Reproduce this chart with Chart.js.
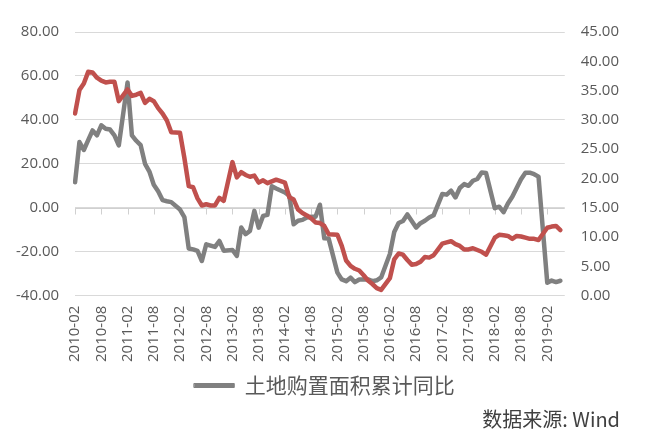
<!DOCTYPE html>
<html>
<head>
<meta charset="utf-8">
<script src="https://cdn.jsdelivr.net/npm/chart.js@4.4.1/dist/chart.umd.min.js"></script>
<style>
  html, body { margin: 0; padding: 0; background: #fff; }
  #wrap { position: relative; width: 649px; height: 438px; }
  #source {
    position: absolute; right: 29px; top: 404px;
    font: 20px "Noto Sans CJK SC", sans-serif; color: #404040; white-space: nowrap;
  }
</style>
</head>
<body>
<div id="wrap">
  <canvas id="chart" width="649" height="438"></canvas>
  <div id="source">数据来源: Wind</div>
</div>
<script>
// months 2010-02 .. 2019-06 (January has no cumulative figure, so it stays null)
const firstYear = 2010, lastYear = 2019;
const months = [];
for (let y = firstYear; y <= lastYear; y++) {
    for (let m = 1; m <= 12; m++) {
        if (y === firstYear && m < 2) continue;
        if (y === lastYear && m > 6) break;
        months.push(y + "-" + String(m).padStart(2, "0"));
    }
}

// 土地购置面积累计同比 (%), left axis
const landArea = [
    11.6, 29.9, 26.3, 30.8, 35.2, 33.0, 37.5, 36.0, 35.6, 33.0, 28.4,          // 2010 Feb-Dec
    null, 57.0, 33.0, 30.5, 28.5, 20.0, 16.5, 10.5, 7.5, 3.5, 3.0, 2.6,        // 2011
    null, -0.8, -4.2, -18.5, -18.9, -19.6, -24.2, -16.6, -17.2, -17.8, -15.1, -19.5, // 2012
    null, -19.2, -21.9, -9.0, -12.0, -10.5, -1.4, -9.0, -3.7, -3.2, 9.8, 8.8,  // 2013
    null, 7.0, 5.5, -7.5, -5.9, -5.5, -4.4, -4.1, -4.1, 1.4, -13.9, -14.0,     // 2014
    null, -29.5, -32.6, -33.4, -31.8, -33.8, -32.6, -32.6, -32.6, -33.4, -33.0, -31.7, // 2015
    null, -21.0, -11.0, -6.9, -6.0, -3.0, -6.0, -9.0, -7.0, -5.9, -4.4, -3.4,  // 2016
    null, 6.3, 6.0, 7.8, 4.7, 9.0, 10.8, 10.0, 12.3, 13.1, 16.1, 15.8,         // 2017
    null, -0.2, 0.5, -2.0, 2.0, 5.0, 9.0, 13.0, 16.0, 16.0, 15.3, 14.2,        // 2018
    null, -34.1, -33.1, -33.8, -33.2, null                                      // 2019
];

// red series (%), right axis
const investment = [
    31.1, 35.1, 36.2, 38.2, 38.1, 37.2, 36.7, 36.4, 36.5, 36.5, 33.2,          // 2010 Feb-Dec
    null, 35.2, 34.1, 34.3, 34.6, 32.9, 33.6, 33.2, 32.0, 31.1, 29.9, 27.9,    // 2011
    null, 27.8, 23.5, 18.7, 18.5, 16.6, 15.4, 15.6, 15.4, 15.4, 16.7, 16.2,    // 2012
    null, 22.8, 20.2, 21.1, 20.6, 20.3, 20.5, 19.3, 19.7, 19.2, 19.5, 19.8,    // 2013
    null, 19.3, 16.8, 16.4, 14.7, 14.1, 13.7, 13.2, 12.5, 12.4, 11.9, 10.5,    // 2014
    null, 10.4, 8.5, 6.0, 5.1, 4.6, 4.3, 3.5, 2.6, 2.0, 1.3, 1.0,              // 2015
    null, 3.0, 6.2, 7.2, 7.0, 6.1, 5.3, 5.4, 5.8, 6.6, 6.5, 6.9,               // 2016
    null, 8.9, 9.1, 9.3, 8.8, 8.5, 7.9, 7.9, 8.1, 7.8, 7.5, 7.0,               // 2017
    null, 9.9, 10.4, 10.3, 10.2, 9.7, 10.2, 10.1, 9.9, 9.7, 9.7, 9.5,          // 2018
    null, 11.6, 11.8, 11.9, 11.2, null                                          // 2019
];

const leftTicks = [-40, -20, 0, 20, 40, 60, 80];
const rightTicks = [0, 5, 10, 15, 20, 25, 30, 35, 40, 45];

const GREY = "#808080";
const RED = "#c0504d";
const TEXT = "#595959";
const FONT = "'Noto Sans CJK SC', sans-serif";
const NUM_FONT = "'Open Sans', 'Noto Sans CJK SC', sans-serif";

// Excel draws the category axis across y = 0 with small tick marks
const zeroAxis = {
    id: "zeroAxis",
    beforeDatasetsDraw(chart) {
        const { ctx, chartArea, scales } = chart;
        const y0 = Math.round(scales.y.getPixelForValue(0)) + 0.5;
        ctx.save();
        ctx.strokeStyle = "#d0d0d0";
        ctx.lineWidth = 1;
        ctx.beginPath();
        ctx.moveTo(chartArea.left, y0);
        ctx.lineTo(chartArea.right, y0);
        months.forEach((m, i) => {
            if (i % 6 !== 0) return;
            const px = Math.round(scales.x.getPixelForValue(i)) + 0.5;
            ctx.moveTo(px, y0);
            ctx.lineTo(px, y0 + 6);
        });
        ctx.stroke();
        ctx.restore();
    }
};

new Chart(document.getElementById("chart").getContext("2d"), {
    type: "line",
    data: {
        labels: months,
        datasets: [
            {
                label: "土地购置面积累计同比",
                data: landArea,
                yAxisID: "y",
                borderColor: GREY,
                backgroundColor: GREY,
                borderWidth: 4.5,
                pointRadius: 0,
                tension: 0,
                spanGaps: true,
                borderJoinStyle: "round",
                borderCapStyle: "round",
                order: 2
            },
            {
                label: "",
                data: investment,
                yAxisID: "y1",
                borderColor: RED,
                backgroundColor: RED,
                borderWidth: 4.5,
                pointRadius: 0,
                tension: 0,
                spanGaps: true,
                borderJoinStyle: "round",
                borderCapStyle: "round",
                order: 1
            }
        ]
    },
    options: {
        responsive: false,
        animation: false,
        devicePixelRatio: 1,
        layout: { padding: { left: 0, right: 0, top: 32, bottom: 32 } },
        plugins: {
            tooltip: { enabled: false },
            legend: {
                display: true,
                position: "bottom",
                labels: {
                    color: TEXT,
                    font: { family: FONT, size: 21 },
                    boxWidth: 40,
                    boxHeight: 4,
                    padding: 3,
                    generateLabels: (chart) =>
                        Chart.defaults.plugins.legend.labels.generateLabels(chart)
                            .filter(l => l.datasetIndex === 0)
                            .map(l => ({ ...l, lineWidth: 1, strokeStyle: GREY, fillStyle: GREY }))
                }
            }
        },
        scales: {
            x: {
                type: "category",
                offset: false,
                grid: { display: false, drawTicks: false },
                border: { display: false },
                ticks: {
                    autoSkip: false,
                    minRotation: 90,
                    maxRotation: 90,
                    padding: 10,
                    color: TEXT,
                    font: { family: NUM_FONT, size: 15 },
                    callback: (v, i) => (i % 6 === 0 ? months[i] : null)
                }
            },
            y: {
                position: "left",
                min: leftTicks[0],
                max: leftTicks[leftTicks.length - 1],
                afterBuildTicks: (s) => { s.ticks = leftTicks.map(v => ({ value: v })); },
                grid: { color: "#d9d9d9", lineWidth: 1, drawTicks: false },
                border: { display: false },
                ticks: {
                    padding: 16,
                    color: TEXT,
                    font: { family: NUM_FONT, size: 15 },
                    callback: (v) => Number(v).toFixed(2)
                }
            },
            y1: {
                position: "right",
                min: rightTicks[0],
                max: rightTicks[rightTicks.length - 1],
                afterBuildTicks: (s) => { s.ticks = rightTicks.map(v => ({ value: v })); },
                afterFit: (s) => { s.width += 14; },
                grid: { display: false, drawTicks: false },
                border: { display: false },
                ticks: {
                    padding: 16,
                    color: TEXT,
                    font: { family: NUM_FONT, size: 15 },
                    callback: (v) => Number(v).toFixed(2)
                }
            }
        }
    },
    plugins: [zeroAxis]
});
</script>
</body>
</html>
